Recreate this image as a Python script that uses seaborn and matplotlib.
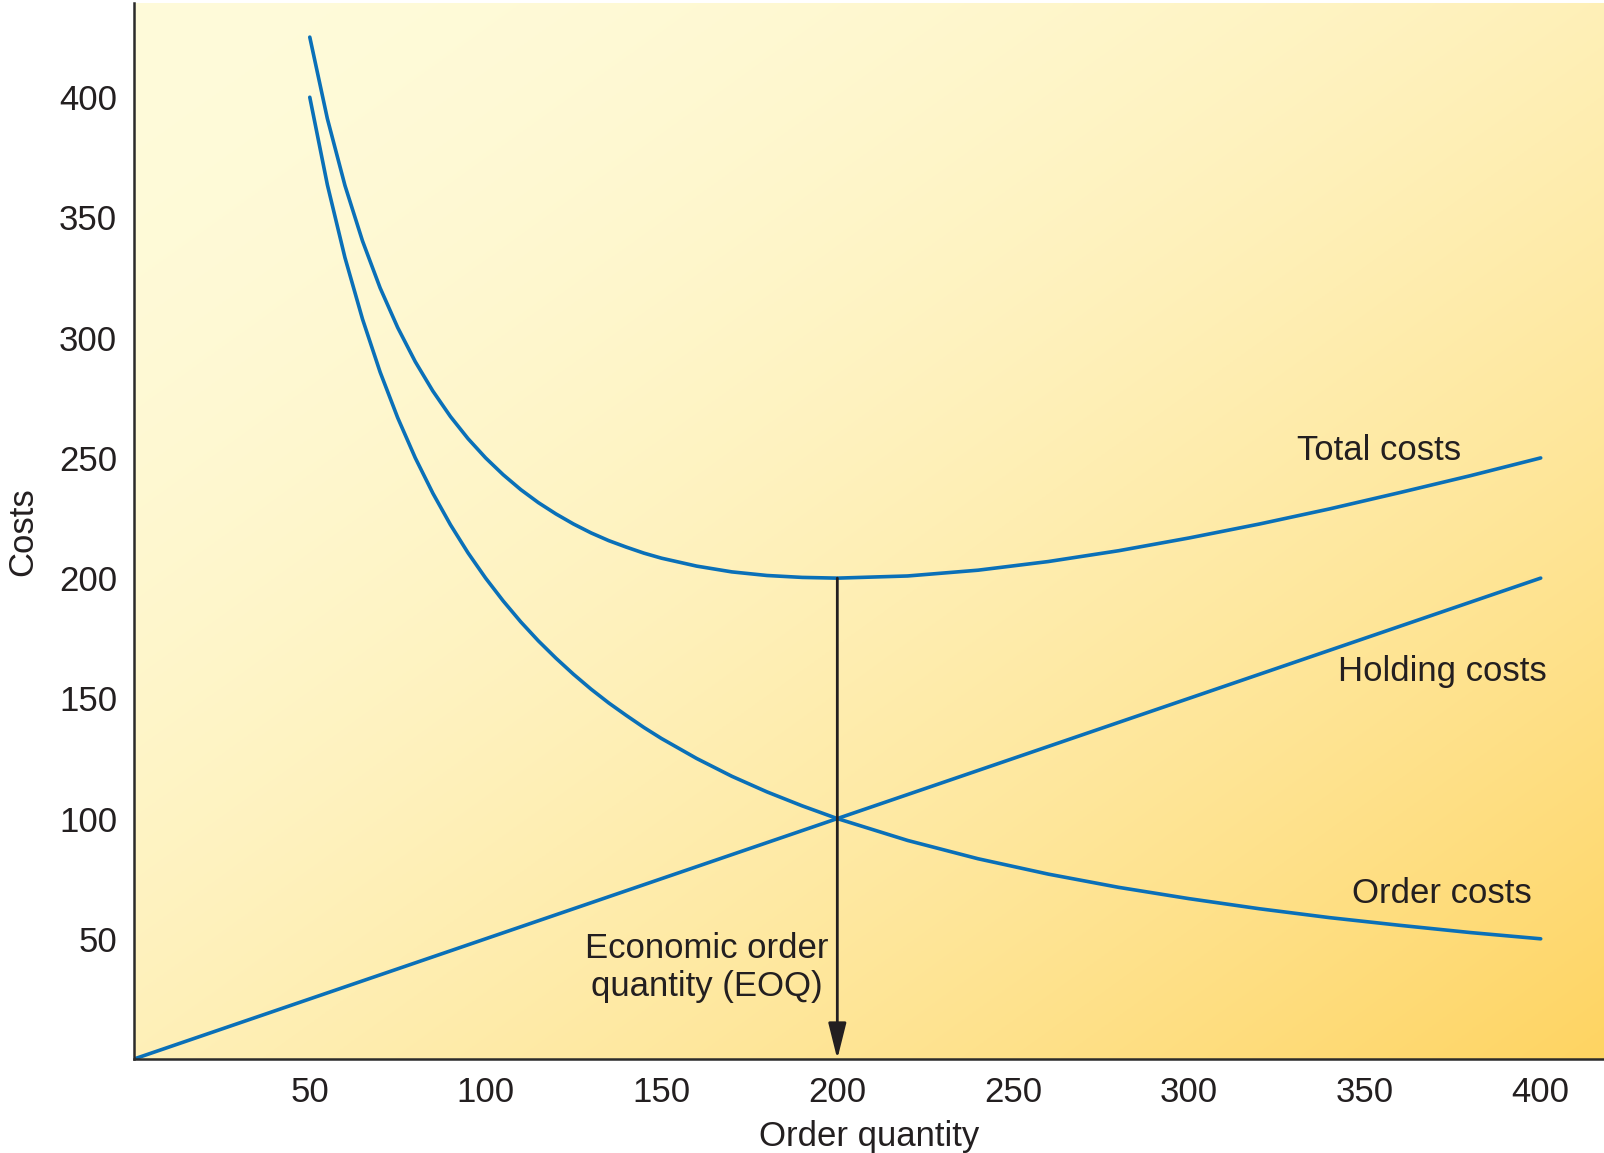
import numpy as np
import pandas as pd
import matplotlib
matplotlib.use("Agg")
import matplotlib.pyplot as plt
import seaborn as sns

# Order quantity grid and cost curves
order_qty = [50, 55, 60, 65, 70, 75, 80, 85, 90, 95, 100, 105, 110, 115, 120, 125,
             130, 135, 140, 145, 150, 160, 170, 180, 190, 200, 220, 240, 260, 280,
             300, 320, 340, 360, 380, 400]
order_costs = [400, 363.6, 333.3, 307.7, 285.7, 266.7, 250, 235.3, 222.2, 210.5, 200,
               190.5, 181.8, 173.9, 166.7, 160, 153.8, 148.1, 142.9, 137.9, 133.3,
               125, 117.6, 111.1, 105.3, 100, 90.9, 83.3, 76.9, 71.4, 66.7, 62.5,
               58.8, 55.6, 52.6, 50]
total_costs = [425, 391.1, 363.3, 340.2, 320.7, 304.2, 290, 277.8, 267.2, 258, 250,
               243, 236.8, 231.4, 226.7, 222.5, 218.8, 215.6, 212.9, 210.4, 208.3,
               205, 202.6, 201.1, 200.3, 200, 200.9, 203.3, 206.9, 211.4, 216.7,
               222.5, 228.8, 235.6, 242.6, 250]
holding_qty = [0, 400]
holding_costs = [0, 200]

eoq_qty = 200
eoq_cost = 200

x_ticks = [50, 100, 150, 200, 250, 300, 350, 400]
y_ticks = [50, 100, 150, 200, 250, 300, 350, 400]

sns.set_theme(style="white")
plt.rcParams["font.family"] = ["Liberation Sans", "DejaVu Sans"]

LINE = "#0a70b8"
INK = "#231f20"
X_MAX, Y_MAX = 418, 439

fig = plt.figure(figsize=(16.04, 11.53), dpi=100)
ax = fig.add_axes([0.0835, 0.0815, 0.9165, 0.9155])

# diagonal cream-to-amber background
nx, ny = 400, 400
gx, gy = np.meshgrid(np.linspace(0, 1, nx), np.linspace(1, 0, ny))
t = np.clip((gx + (1 - gy)) / 2, 0, 1) ** 1.8
c0 = np.array([255, 251, 218]) / 255
c1 = np.array([254, 212, 98]) / 255
img = c0[None, None, :] + (c1 - c0)[None, None, :] * t[..., None]
ax.imshow(img, extent=[0, X_MAX, 0, Y_MAX], origin="upper", aspect="auto", zorder=0)

df_order = pd.DataFrame({"q": order_qty, "cost": order_costs})
df_total = pd.DataFrame({"q": order_qty, "cost": total_costs})
df_hold = pd.DataFrame({"q": holding_qty, "cost": holding_costs})

for d in (df_total, df_order, df_hold):
    sns.lineplot(data=d, x="q", y="cost", ax=ax, color=LINE, lw=2.6,
                 sort=True, zorder=3)

ax.annotate("", xy=(eoq_qty, 0), xytext=(eoq_qty, eoq_cost),
            arrowprops=dict(arrowstyle="-|>,head_length=2.2,head_width=0.55",
                            color=INK, lw=2.0, mutation_scale=10,
                            shrinkA=0, shrinkB=0), zorder=4)

fs = 25
ax.text(354, 253, "Total costs", ha="center", va="center", fontsize=fs, color=INK)
ax.text(372, 161, "Holding costs", ha="center", va="center", fontsize=fs, color=INK)
ax.text(372, 69, "Order costs", ha="center", va="center", fontsize=fs, color=INK)
ax.text(163, 38, "Economic order\nquantity (EOQ)", ha="center", va="center",
        fontsize=fs, color=INK, linespacing=1.2)

ax.set_xlim(0, X_MAX)
ax.set_ylim(0, Y_MAX)
ax.set_xticks(x_ticks)
ax.set_yticks(y_ticks)
ax.tick_params(axis="both", direction="in", length=17, width=1.3, colors="#333333",
               labelsize=fs, labelcolor=INK, pad=12)
ax.set_xlabel("Order quantity", fontsize=fs, color=INK, labelpad=8)
ax.set_ylabel("Costs", fontsize=fs, color=INK, labelpad=14)

for side in ("top", "right"):
    ax.spines[side].set_visible(False)
for side in ("left", "bottom"):
    ax.spines[side].set_color("#2b2b2b")
    ax.spines[side].set_linewidth(1.8)
    ax.spines[side].set_zorder(5)

fig.savefig("out.png", dpi=100, facecolor="white")
